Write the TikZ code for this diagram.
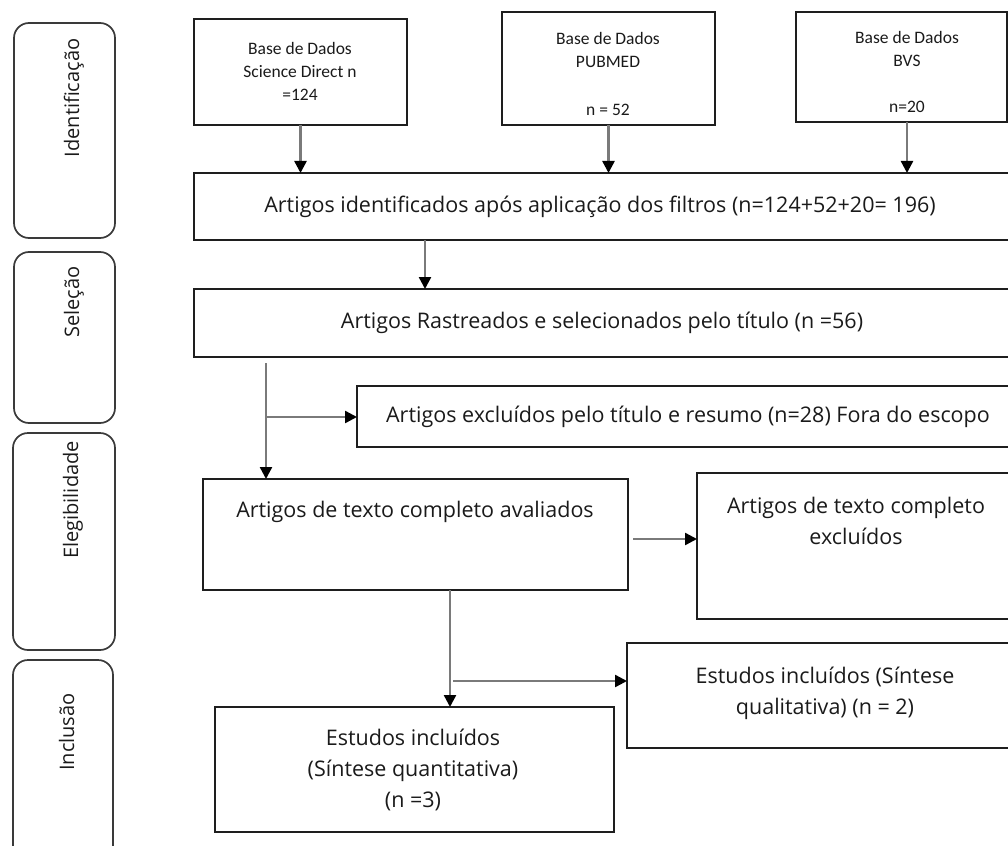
\documentclass[tikz,border=0pt]{standalone}
\usepackage{fontspec}
\setmainfont{Open Sans}
\newfontfamily\calfont{Carlito}
\usetikzlibrary{arrows.meta}
\definecolor{boxc}{HTML}{1E1E1E}
\definecolor{sidec}{HTML}{3A3A3A}
\definecolor{arrc}{HTML}{7A7A7A}
\definecolor{txtc}{HTML}{1A1A1A}
\begin{document}
\begin{tikzpicture}[x=1pt,y=-1pt,
  box/.style={draw=boxc, line width=1.7pt, inner sep=0pt, outer sep=0pt, anchor=north west},
  side/.style={draw=sidec, line width=1.7pt, rounded corners=15pt, inner sep=0pt, outer sep=0pt, anchor=north west},
  sidelabel/.style={rotate=90, anchor=base, font=\fontsize{20}{23}\selectfont, text=txtc, inner sep=0pt},
  maint/.style={font=\fontsize{21.5}{31}\selectfont, text=txtc, align=center, inner sep=0pt},
  smallt/.style={font=\calfont\fontsize{17.5}{23}\selectfont, text=txtc, align=center, inner sep=0pt},
  arr/.style={draw=arrc, line width=2.4pt, -{Triangle[length=12pt,width=12pt,color=black]}}]
\useasboundingbox (0,0) rectangle (1008,845);
\clip (0,0) rectangle (1008,845);

% phase boxes
\node[side, minimum width=101pt, minimum height=215pt] (s1) at (14,23) {};
\node[sidelabel] (s1t) at (79,98) {Identificação};
\node[side, minimum width=101pt, minimum height=171pt] (s2) at (14,252) {};
\node[sidelabel] (s2t) at (79,302) {Seleção};
\node[side, minimum width=102pt, minimum height=217pt] (s3) at (13,433) {};
\node[sidelabel] (s3t) at (78,500) {Elegibilidade};
\node[side, minimum width=100pt, minimum height=200pt] (s4) at (13,660) {};
\node[sidelabel] (s4t) at (74,732) {Inclusão};

% database boxes
\node[box, minimum width=213pt, minimum height=106pt] (sd) at (194,19) {};
\node[smallt] (sdt) at (300,71) {Base de Dados\\Science Direct n\\=124};
\node[box, minimum width=213pt, minimum height=113pt] (pm) at (502,12) {};
\node[smallt] (pmt) at (608,74) {Base de Dados\\PUBMED\\[25pt]n = 52};
\node[box, minimum width=211pt, minimum height=110pt] (bvs) at (796,12) {};
\node[smallt] (bvst) at (907,72) {Base de Dados\\BVS\\[23pt]n=20};

% main boxes
\node[box, minimum width=821pt, minimum height=67pt] (ident) at (194,173) {};
\node[maint] (identt) at (600,207) {Artigos identificados após aplicação dos filtros (n=124+52+20= 196)};
\node[box, minimum width=821pt, minimum height=68pt] (rast) at (194,289) {};
\node[maint] (rastt) at (602,323) {Artigos Rastreados e selecionados pelo título (n =56)};
\node[box, minimum width=658pt, minimum height=61pt] (excl) at (357,386) {};
\node[maint] (exclt) at (688,417) {Artigos excluídos pelo título e resumo (n=28) Fora do escopo};
\node[box, minimum width=425pt, minimum height=111pt] (eval) at (203,479) {};
\node[maint] (evalt) at (415,512) {Artigos de texto completo avaliados};
\node[box, minimum width=318pt, minimum height=146pt] (exc2) at (697,473) {};
\node[maint] (exc2t) at (856,521) {Artigos de texto completo\\excluídos};
\node[box, minimum width=388pt, minimum height=105pt] (qual) at (627,643) {};
\node[maint] (qualt) at (825,693) {Estudos incluídos (Síntese\\qualitativa) (n = 2)};
\node[box, minimum width=399pt, minimum height=125pt] (quant) at (215,707) {};
\node[maint] (quantt) at (413,770) {Estudos incluídos\\(Síntese quantitativa)\\(n =3)};

% connectors
\coordinate (xb) at (907,0);
\coordinate (xa) at (425,0);
\coordinate (c3) at (266,363);
\coordinate (c4) at (266,417);
\coordinate (c5) at (633,539);
\coordinate (c6) at (450,0);
\coordinate (c7) at (453,681);
\draw[arr] (sd.south) -- (sd.south |- ident.north);
\draw[arr] (pm.south) -- (pm.south |- ident.north);
\draw[arr] (xb |- bvs.south) -- (xb |- ident.north);
\draw[arr] (xa |- ident.south) -- (xa |- rast.north);
\draw[arr] (c3) -- (c3 |- eval.north);
\draw[arr] (c4) -- (c4 -| excl.west);
\draw[arr] (c5) -- (c5 -| exc2.west);
\draw[arr] (c6 |- eval.south) -- (c6 |- quant.north);
\draw[arr] (c7) -- (c7 -| qual.west);
\end{tikzpicture}
\end{document}
